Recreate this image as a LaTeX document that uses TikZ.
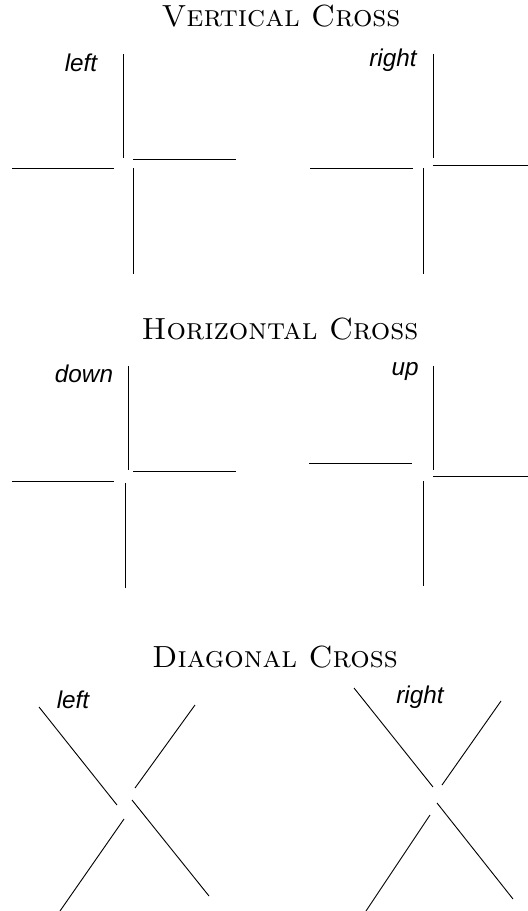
\documentclass[tikz,border=0pt]{standalone}
\usepackage{fontspec}
\newfontfamily\lblfont{Liberation Sans}
\begin{document}
\begin{tikzpicture}[x=0.35pt,y=-0.35pt,
  seg/.style={draw=black, line width=0.32pt},
  ttl/.style={font=\fontsize{10.7}{12}\selectfont\scshape\addfontfeature{LetterSpace=2}, anchor=base, inner sep=0pt},
  lbl/.style={font=\fontsize{8.5}{10}\selectfont\lblfont\itshape, anchor=base, inner sep=0pt}]
\useasboundingbox (0,0) rectangle (528,911);

% ---------- Vertical Cross ----------
\node[ttl] (t1) at (281,27) {Vertical Cross};
\node[lbl] (l1) at (81,72) {left};
\node[lbl] (l2) at (393,67) {right};
% left
\draw[seg] (123,54) -- (123,158);
\draw[seg] (133,159) -- (236,159);
\draw[seg] (12,168) -- (114,168);
\draw[seg] (133,168) -- (133,274);
% right
\draw[seg] (433,54) -- (433,158);
\draw[seg] (433,165) -- (528,165);
\draw[seg] (310,168) -- (413,168);
\draw[seg] (423,168) -- (423,274);

% ---------- Horizontal Cross ----------
\node[ttl] (t2) at (280,340) {Horizontal Cross};
\node[lbl] (l3) at (84,383) {down};
\node[lbl] (l4) at (405,376) {up};
% left
\draw[seg] (128,366) -- (128,470);
\draw[seg] (133,471) -- (236,471);
\draw[seg] (12,481) -- (114,481);
\draw[seg] (125,483) -- (125,588);
% right
\draw[seg] (433,366) -- (433,470);
\draw[seg] (309,463) -- (412,463);
\draw[seg] (433,476) -- (528,476);
\draw[seg] (423,481) -- (423,586);

% ---------- Diagonal Cross ----------
\node[ttl] (t3) at (275,667) {Diagonal Cross};
\node[lbl] (l5) at (73,708) {left};
\node[lbl] (l6) at (420,703) {right};
% left
\draw[seg] (39,707) -- (117,805);
\draw[seg] (195,705) -- (135,788);
\draw[seg] (124,819) -- (60,911);
\draw[seg] (132,800) -- (209,896);
% right
\draw[seg] (354,688) -- (433,787);
\draw[seg] (501,701) -- (442,785);
\draw[seg] (430,815) -- (366,911);
\draw[seg] (437,803) -- (513,899);
\end{tikzpicture}
\end{document}
